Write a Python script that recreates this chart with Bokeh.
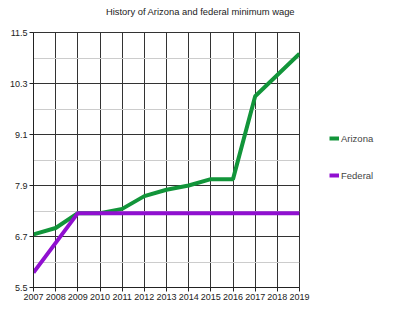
from bokeh.plotting import figure
from bokeh.layouts import row, column
from bokeh.models import Range1d, FixedTicker, Legend, LegendItem, Label
from bokeh.embed import file_html
from bokeh.resources import INLINE

years = list(range(2007, 2020))
arizona = [6.75, 6.90, 7.25, 7.25, 7.35, 7.65, 7.80, 7.90, 8.05, 8.05, 10.00, 10.50, 11.00]
federal = [5.85, 6.55, 7.25, 7.25, 7.25, 7.25, 7.25, 7.25, 7.25, 7.25, 7.25, 7.25, 7.25]
y_ticks = [5.5, 6.7, 7.9, 9.1, 10.3, 11.5]
y_minor = [6.1, 7.3, 8.5, 9.7, 10.9]
title = "History of Arizona and federal minimum wage"
series_names = ["Arizona", "Federal"]
colors = ["#12953a", "#9010d0"]

FONT = "Liberation Sans"

# title strip
t = figure(width=400, height=26, output_backend="svg", toolbar_location=None,
           x_range=Range1d(0, 1), y_range=Range1d(0, 1),
           x_axis_location=None, y_axis_location=None, min_border=0)
t.grid.visible = False
t.outline_line_color = None
t.add_layout(Label(x=200, y=15, x_units="screen", y_units="screen", text=title,
                   text_font=FONT, text_font_size="9.4px", text_color="#222222",
                   text_align="center", text_baseline="middle"))

p = figure(width=329, height=283, output_backend="svg", toolbar_location=None,
           x_range=Range1d(2007, 2019), y_range=Range1d(5.5, 11.5),
           min_border_left=33, min_border_right=30, min_border_top=6, min_border_bottom=22)

p.line(years, arizona, line_color=colors[0], line_width=4)
p.line(years, federal, line_color=colors[1], line_width=4)

p.xaxis.ticker = FixedTicker(ticks=years)
p.yaxis.ticker = FixedTicker(ticks=y_ticks, minor_ticks=y_minor)
p.yaxis.formatter.use_scientific = False
for ax in (p.xaxis, p.yaxis):
    ax.major_label_text_font = FONT
    ax.major_label_text_font_size = "9px"
    ax.major_label_text_color = "#222222"
    ax.axis_line_color = "#222222"
    ax.major_tick_line_color = "#222222"
    ax.major_tick_out = 4
    ax.major_tick_in = 0
    ax.minor_tick_line_color = None
    ax.major_label_standoff = 2

p.xgrid.grid_line_color = "#333333"
p.ygrid.grid_line_color = "#333333"
p.ygrid.minor_grid_line_color = "#cccccc"
p.outline_line_color = "#333333"

# legend panel: separate figure whose lines lie outside its view
q = figure(width=71, height=283, output_backend="svg", toolbar_location=None,
           x_range=Range1d(0, 1), y_range=Range1d(0, 1),
           x_axis_location=None, y_axis_location=None, min_border=0)
q.grid.visible = False
q.outline_line_color = None
r1 = q.line(years, arizona, line_color=colors[0], line_width=4)
r2 = q.line(years, federal, line_color=colors[1], line_width=4)
legend = Legend(items=[LegendItem(label=series_names[0], renderers=[r1]),
                       LegendItem(label=series_names[1], renderers=[r2])],
                location=(0, 105), orientation="vertical",
                label_text_font=FONT, label_text_font_size="9.5px",
                glyph_width=10, glyph_height=10, label_standoff=2,
                spacing=23, border_line_color=None, background_fill_alpha=0,
                margin=0, padding=0)
legend.label_height = 14
q.add_layout(legend)

layout = column(t, row(p, q, spacing=0), spacing=0)
open("out.html", "w").write(file_html(layout, INLINE))
